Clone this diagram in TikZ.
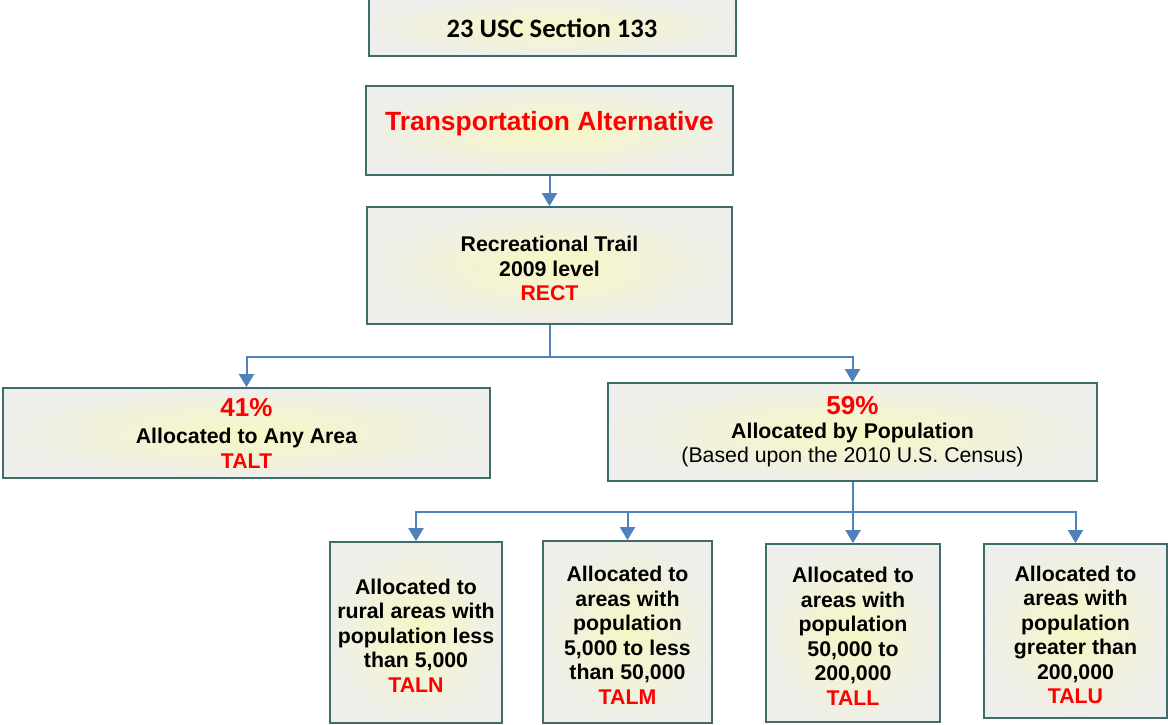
\documentclass[tikz,border=0pt]{standalone}
\usepackage{fontspec}
\setmainfont{Liberation Sans}
\newfontfamily\calibfont{Carlito}
\usetikzlibrary{arrows.meta}
\definecolor{bord}{RGB}{62,108,106}
\definecolor{linkblue}{RGB}{79,129,189}
\definecolor{innerc}{RGB}{247,247,196}
\definecolor{outerc}{RGB}{238,238,234}
\definecolor{redtxt}{RGB}{255,0,0}
\begin{document}
\begin{tikzpicture}[x=1pt,y=-1pt,
  box/.style={draw=bord, line width=1.8pt, inner color=innerc, outer color=outerc,
    inner sep=0pt, align=center, font=\bfseries\fontsize{21.3}{24.5}\selectfont},
  conn/.style={draw=linkblue, line width=2pt},
  arr/.style={conn, -{Triangle[width=15pt,length=13pt]}},
  txt/.style={inner sep=0pt, align=center, font=\bfseries\fontsize{21.3}{24.5}\selectfont}]
\useasboundingbox (0,0) rectangle (1168,725);

% boxes
\node[box, minimum width=367pt, minimum height=58pt] (usc) at (552.5,27) {};
\node[txt, font=\calibfont\bfseries\fontsize{26.6}{28}\selectfont] (usctext) at (552,28.5) {23 USC Section 133};

\node[box, minimum width=367pt, minimum height=89pt] (ta) at (549.5,130.5) {};
\node[txt, text=redtxt, font=\bfseries\fontsize{26.4}{30}\selectfont] (tatext) at (549.5,124) {Transportation Alternative};

\node[box, minimum width=365pt, minimum height=117pt] (rt) at (549.5,265.5) {};
\node[txt] (rttext) at (549.5,268.5) {Recreational Trail\\2009 level\\\textcolor{redtxt}{RECT}};

\node[box, minimum width=487pt, minimum height=90pt] (aa) at (246.5,433)
  {{\fontsize{26}{29}\selectfont\textcolor{redtxt}{41\%}}\\[3pt]Allocated to Any Area\\\textcolor{redtxt}{TALT}};

\node[box, minimum width=489pt, minimum height=98pt] (pop) at (852.5,432)
  {{\fontsize{26}{29}\selectfont\textcolor{redtxt}{59\%}}\\[-1pt]Allocated by Population\\{\mdseries (Based upon the 2010 U.S. Census)}};

\node[box, minimum width=172pt, minimum height=181pt] (b1) at (416,632.5) {};
\node[txt] (b1text) at (416,635.5)
  {Allocated to\\rural areas with\\population less\\than 5,000\\\textcolor{redtxt}{TALN}};
\node[box, minimum width=169pt, minimum height=182pt] (b2) at (627.5,632) {};
\node[txt] (b2text) at (627.5,635.5)
  {Allocated to\\areas with\\population\\5,000 to less\\than 50,000\\\textcolor{redtxt}{TALM}};
\node[box, minimum width=174pt, minimum height=178pt] (b3) at (853,633) {};
\node[txt] (b3text) at (853,636.5)
  {Allocated to\\areas with\\population\\50,000 to\\200,000\\\textcolor{redtxt}{TALL}};
\node[box, minimum width=183pt, minimum height=174pt] (b4) at (1075.5,631) {};
\node[txt] (b4text) at (1075.5,635)
  {Allocated to\\areas with\\population\\greater than\\200,000\\\textcolor{redtxt}{TALU}};

% connectors
\coordinate (j1) at (549.5,357);
\coordinate (j2) at (852.5,512);
\draw[arr] (ta.south) -- (rt.north);
\draw[arr] (rt.south) -- (j1) -| (aa.north);
\draw[arr] (j1) -| (pop.north);
\draw[arr] (pop.south) -- (j2) -| (b1.north);
\draw[arr] (j2) -| (b2.north);
\draw[arr] (j2) -| (b3.north);
\draw[arr] (j2) -| (b4.north);
\end{tikzpicture}
\end{document}
